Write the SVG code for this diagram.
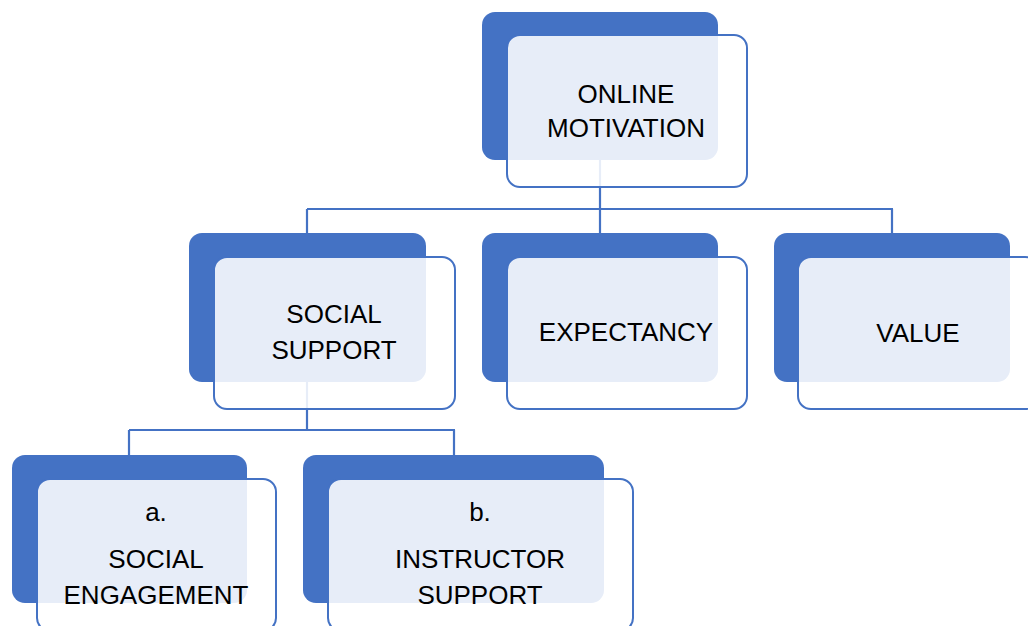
<svg xmlns="http://www.w3.org/2000/svg" width="1028" height="626" viewBox="0 0 1028 626">
<style>
.back{fill:#4472C4;}
.front{fill:#FFFFFF;fill-opacity:0.87;stroke:#4472C4;stroke-width:2;}
.conn{fill:none;stroke:#4472C4;stroke-width:2.2;}
.t{font-family:"Liberation Sans",Arial,sans-serif;font-size:26px;fill:#000;text-anchor:middle;}
</style>
<rect width="1028" height="626" fill="#FFFFFF"/>
<g id="backs">
<rect class="back" x="482" y="12" width="236" height="148" rx="13"/>
<rect class="back" x="189" y="233" width="237" height="149" rx="13"/>
<rect class="back" x="482" y="233" width="236" height="149" rx="13"/>
<rect class="back" x="774" y="233" width="236" height="149" rx="13"/>
<rect class="back" x="12" y="455" width="235" height="148" rx="13"/>
<rect class="back" x="303" y="455" width="301" height="148" rx="13"/>
</g>
<g id="connectors">
<path class="conn" d="M600 160 V209 M307 209 H893 M307 209 V233 M600 209 V233 M892 209 V233"/>
<path class="conn" d="M307 382 V430 M129 430 H455 M129 430 V455 M454 430 V455"/>
</g>
<g id="node-online-motivation">
<rect class="front" x="507" y="35" width="240" height="152" rx="13"/>
<text class="t" x="626" y="103">ONLINE</text>
<text class="t" x="626" y="137">MOTIVATION</text>
</g>
<g id="node-social-support">
<rect class="front" x="214" y="257" width="241" height="152" rx="13"/>
<text class="t" x="334" y="323">SOCIAL</text>
<text class="t" x="334" y="359">SUPPORT</text>
</g>
<g id="node-expectancy">
<rect class="front" x="507" y="257" width="240" height="152" rx="13"/>
<text class="t" x="626" y="341">EXPECTANCY</text>
</g>
<g id="node-value">
<rect class="front" x="798" y="257" width="240" height="152" rx="13"/>
<text class="t" x="918" y="342">VALUE</text>
</g>
<g id="node-social-engagement">
<rect class="front" x="37" y="479" width="239" height="152" rx="13"/>
<text class="t" x="156" y="521">a.</text>
<text class="t" x="156" y="568">SOCIAL</text>
<text class="t" x="156" y="604">ENGAGEMENT</text>
</g>
<g id="node-instructor-support">
<rect class="front" x="328" y="479" width="305" height="152" rx="13"/>
<text class="t" x="480" y="521">b.</text>
<text class="t" x="480" y="568">INSTRUCTOR</text>
<text class="t" x="480" y="604">SUPPORT</text>
</g>
</svg>
